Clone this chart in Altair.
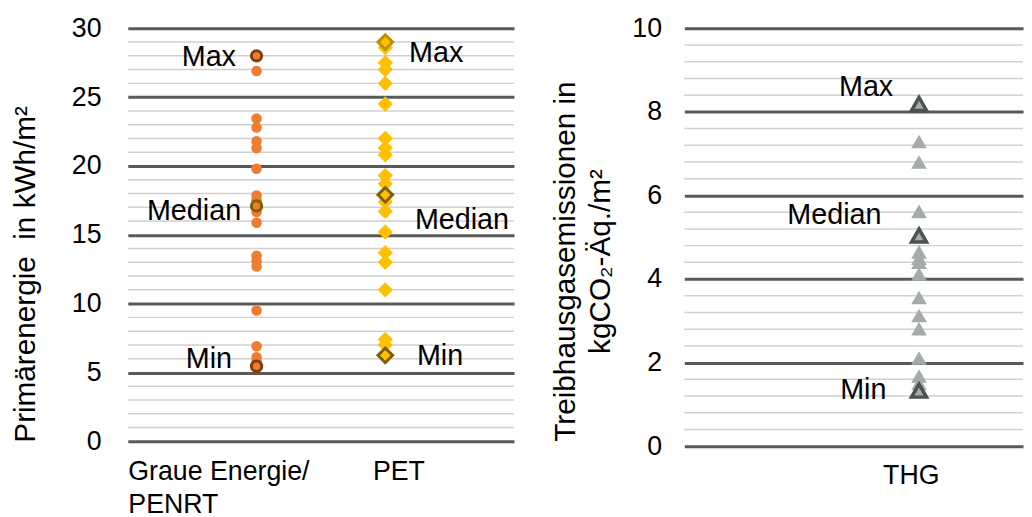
import altair as alt
import pandas as pd

FONT = "Liberation Sans"

# ---------------- data ----------------
graue_values = [28.0, 26.9, 23.45, 22.8, 21.8, 21.3, 19.8, 17.85, 17.5, 17.1,
                16.65, 15.87, 13.48, 13.1, 12.7, 9.5, 6.9, 6.1, 5.8, 5.45]
pet_values = [29.0, 28.6, 27.5, 27.0, 26.0, 24.5, 22.0, 21.3, 20.8, 19.3, 18.7,
              17.9, 17.4, 16.7, 15.2, 13.7, 13.0, 11.0, 7.4, 7.0, 6.24]
thg_values = [8.19, 7.29, 6.8, 5.62, 5.04, 4.65, 4.5, 4.4, 4.12, 3.56, 3.13,
              2.81, 2.11, 1.68, 1.5, 1.33]

stat_labels = ["Max", "Median", "Min"]
graue_stats = [28.0, 17.1, 5.45]
pet_stats = [29.0, 17.9, 6.24]
thg_stats = [8.19, 5.04, 1.33]

# category positions on the x scale
graue_pos = 1
pet_pos = 2
thg_pos = 1

# annotation anchors (data units)
graue_label_x = [0.84, 0.88, 0.81]
graue_label_y = [27.9, 16.7, 6.0]
pet_label_x = [2.185, 2.23, 2.246]
pet_label_y = [28.2, 16.06, 6.19]
thg_label_x = [0.89, 0.84, 0.861]
thg_label_y = [8.6, 5.52, 1.35]

left_major = [0, 5, 10, 15, 20, 25, 30]
left_minor = [v for v in range(0, 31) if v % 5 != 0]
right_major = [0, 2, 4, 6, 8, 10]
right_minor = [round(i * 0.4, 1) for i in range(26) if i % 5 != 0]

# ---------------- styling ----------------
MAJOR = "#595959"
MINOR = "#D0D0D0"
ORANGE = "#ED7D31"
GOLD = "#FFC000"
GREY = "#A5ABA8"

LW, LH = 390, 417
RW, RH = 342, 422

xL = alt.Scale(domain=[0, 3], nice=False, zero=False)
yL = alt.Scale(domain=[0, 30], nice=False)
xR = alt.Scale(domain=[0, RW / 237.0], nice=False, zero=False)
yR = alt.Scale(domain=[0, 10], nice=False)

left_y_axis = alt.Axis(values=left_major, grid=True, gridColor=MAJOR, gridWidth=3,
                       domain=False, ticks=False, labelFontSize=27, labelPadding=27,
                       labelColor="black", title="Primärenergie\u00a0 in kWh/m²",
                       titleFontSize=30, titleFontWeight="normal", titleColor="black",
                       titleX=-103, titleY=248, titleBaseline="middle",
                       titleAlign="center", titleAngle=270)
left_x_axis = alt.Axis(values=[0, 1.9],
                       labelExpr="datum.value < 1 ? ['Graue Energie/', 'PENRT'] : 'PET'",
                       labelAlign="left", labelBaseline="top", labelFlush=False,
                       labelOverlap=False, labelLineHeight=33, labelFontSize=27,
                       labelLimit=400, labelPadding=18, labelColor="black", grid=False,
                       domain=False, ticks=False, tickSize=0, title="")

right_y_axis = alt.Axis(values=right_major, grid=True, gridColor=MAJOR, gridWidth=3,
                        domain=False, ticks=False, labelFontSize=27, labelPadding=23,
                        labelColor="black",
                        title=["Treibhausgasemissionen in", "kgCO₂-Äq./m²"],
                        titleFontSize=30, titleFontWeight="normal", titleColor="black",
                        titleLineHeight=35, titleX=-120, titleY=235,
                        titleBaseline="middle", titleAlign="center", titleAngle=270)
right_x_axis = alt.Axis(values=[0.965], labelExpr="'THG'", labelAlign="center",
                        labelBaseline="top", labelFlush=False, labelFontSize=27,
                        labelLimit=400, labelPadding=17, labelColor="black", grid=False,
                        domain=False, ticks=False, tickSize=0, title="")


def minor_layer(values, yscale, yaxis):
    return alt.Chart(pd.DataFrame({"v": values})).mark_rule(
        color=MINOR, strokeWidth=1.5
    ).encode(y=alt.Y("v:Q", scale=yscale, axis=yaxis))


def points_layer(values, pos, shape, color, size, xscale, yscale, xaxis, yaxis):
    df = pd.DataFrame({"x": [pos] * len(values), "v": values})
    return alt.Chart(df).mark_point(shape=shape, filled=True, size=size, color=color,
                                    opacity=1).encode(
        x=alt.X("x:Q", scale=xscale, axis=xaxis),
        y=alt.Y("v:Q", scale=yscale, axis=yaxis),
    )


def ring_layer(values, pos, shape, fill, strokes, size, sw, xscale, yscale, xaxis, yaxis):
    df = pd.DataFrame({"x": [pos] * len(values), "v": values, "label": stat_labels})
    return alt.Chart(df).mark_point(shape=shape, filled=True, fill=fill, size=size,
                                    strokeWidth=sw, opacity=1).encode(
        x=alt.X("x:Q", scale=xscale, axis=xaxis),
        y=alt.Y("v:Q", scale=yscale, axis=yaxis),
        stroke=alt.Stroke("label:N", scale=alt.Scale(domain=stat_labels, range=strokes),
                          legend=None),
    )


def text_layer(xs, ys, align, xscale, yscale, xaxis, yaxis):
    df = pd.DataFrame({"x": xs, "v": ys, "label": stat_labels})
    return alt.Chart(df).mark_text(font=FONT, fontSize=29, align=align,
                                   baseline="middle", color="black").encode(
        x=alt.X("x:Q", scale=xscale, axis=xaxis),
        y=alt.Y("v:Q", scale=yscale, axis=yaxis),
        text="label:N",
    )


LA = dict(xscale=xL, yscale=yL, xaxis=left_x_axis, yaxis=left_y_axis)
RA = dict(xscale=xR, yscale=yR, xaxis=right_x_axis, yaxis=right_y_axis)

left = alt.layer(
    minor_layer(left_minor, yL, left_y_axis),
    points_layer(graue_values, graue_pos, "circle", ORANGE, 115, **LA),
    points_layer(pet_values, pet_pos, "diamond", GOLD, 240, **LA),
    ring_layer(graue_stats, graue_pos, "circle", ORANGE,
               ["#843C0C", "#7F6000", "#843C0C"], 110, 3, **LA),
    ring_layer(pet_stats, pet_pos, "diamond", GOLD,
               ["#BF9000", "#7F6000", "#7F6000"], 220, 3, **LA),
    text_layer(graue_label_x, graue_label_y, "right", **LA),
    text_layer(pet_label_x, pet_label_y, "left", **LA),
).resolve_scale(stroke="independent").properties(width=LW, height=LH)

right = alt.layer(
    minor_layer(right_minor, yR, right_y_axis),
    points_layer(thg_values, thg_pos, "triangle-up", GREY, 250, **RA),
    ring_layer(thg_stats, thg_pos, "triangle-up", GREY,
               ["#4B5250", "#4B5250", "#4B5250"], 230, 3.5, **RA),
    text_layer(thg_label_x, thg_label_y, "right", **RA),
).properties(width=RW, height=RH)

chart = alt.hconcat(left, right, spacing=36).properties(
    padding={"left": 3, "top": 4, "right": 0, "bottom": 0}
).configure_view(stroke=None).configure_axis(
    labelFont=FONT, titleFont=FONT
).configure_text(font=FONT)

chart.save("out.html", embed_options={"renderer": "svg", "actions": False})
